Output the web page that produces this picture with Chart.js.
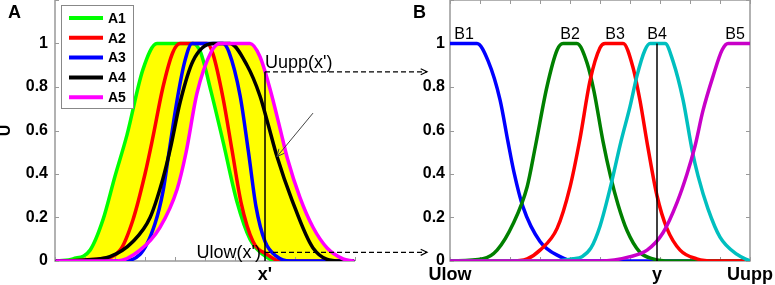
<!DOCTYPE html>
<html>
<head>
<meta charset="utf-8">
<script src="https://cdn.jsdelivr.net/npm/chart.js@4.4.1/dist/chart.umd.min.js"></script>
<style>
html, body { margin: 0; padding: 0; background: #fff; }
#wrap { position: relative; width: 775px; height: 285px; overflow: hidden; }
#chartA { position: absolute; left: 0; top: 0; }
#chartB { position: absolute; left: 390px; top: 0; pointer-events: none; }
</style>
</head>
<body>
<div id="wrap">
  <canvas id="chartA" width="440" height="285"></canvas>
  <canvas id="chartB" width="385" height="285"></canvas>
</div>
<script>
Chart.defaults.font.family = "'Liberation Sans', Arial, sans-serif";
Chart.defaults.color = '#000';

// panel A: input sets, [x, membership] (x axis in tick units 0..10)
var A1 = [[0.07,0],[0.6,0.01],[1.17,0.05],[1.6,0.19],[2.0,0.39],[2.4,0.58],[2.93,0.88],[3.4,1],[4.6,1],[4.85,0.96],[5.2,0.78],[5.6,0.55],[6.07,0.27],[6.5,0.1],[6.93,0.03],[7.4,0],[9.93,0]];
var A2 = [[0.07,0],[1.5,0.01],[2.17,0.05],[2.6,0.19],[3.0,0.4],[3.25,0.56],[3.6,0.8],[3.93,0.96],[4.17,1],[5.07,1],[5.27,0.95],[5.6,0.75],[5.9,0.51],[6.2,0.27],[6.6,0.09],[7.07,0.03],[7.5,0],[9.93,0]];
var A3 = [[0.07,0],[2.17,0],[2.83,0.03],[3.33,0.17],[3.6,0.32],[3.8,0.5],[4.07,0.74],[4.33,0.92],[4.57,1],[5.6,1],[5.8,0.96],[6.17,0.76],[6.45,0.5],[6.7,0.25],[7.0,0.09],[7.4,0.02],[7.83,0],[9.93,0]];
var A4 = [[0.07,0],[1.0,0.005],[1.83,0.02],[2.6,0.09],[3.17,0.2],[3.6,0.38],[3.85,0.52],[4.17,0.73],[4.6,0.92],[5.27,1],[5.83,1],[6.4,0.9],[6.83,0.76],[7.1,0.63],[7.4,0.48],[7.9,0.28],[8.6,0.06],[9.5,0],[9.93,0]];
var A5 = [[0.07,0],[2.07,0],[2.83,0.05],[3.5,0.155],[4.07,0.33],[4.37,0.5],[4.73,0.77],[5.2,0.96],[5.5,1],[6.5,1],[6.83,0.94],[7.17,0.79],[7.5,0.61],[7.75,0.47],[8.17,0.29],[8.6,0.155],[9.07,0.06],[9.6,0.01],[9.93,0]];

// panel B: output sets
var B1 = [[0,1],[0.9,1],[1.27,0.92],[1.67,0.74],[1.93,0.55],[2.13,0.41],[2.43,0.25],[3.0,0.09],[3.67,0.02],[4.1,0],[10,0]];
var B2 = [[0,0],[1.1,0.01],[1.57,0.05],[2.1,0.17],[2.57,0.34],[2.85,0.53],[3.23,0.8],[3.57,0.97],[3.77,1],[4.23,1],[4.57,0.91],[4.8,0.78],[5.1,0.55],[5.35,0.39],[5.6,0.26],[5.9,0.14],[6.33,0.04],[6.77,0.01],[7.33,0],[10,0]];
var B3 = [[0,0],[2.0,0],[2.57,0.01],[3.0,0.05],[3.57,0.15],[4.0,0.34],[4.33,0.56],[4.67,0.83],[5.0,0.98],[5.17,1],[5.77,1],[6.1,0.89],[6.33,0.74],[6.6,0.52],[6.9,0.3],[7.23,0.15],[7.67,0.05],[8.23,0.01],[8.8,0],[10,0]];
var B4 = [[0,0],[3.5,0],[4.1,0.01],[4.4,0.02],[4.7,0.06],[5.0,0.16],[5.33,0.33],[5.7,0.55],[6.0,0.71],[6.23,0.85],[6.5,0.97],[6.67,1],[7.17,1],[7.43,0.92],[7.77,0.74],[8.07,0.51],[8.27,0.39],[8.6,0.24],[9.0,0.11],[9.57,0.03],[10,0]];
var B5 = [[0,0],[5.0,0],[6.0,0.02],[6.57,0.05],[7.1,0.13],[7.57,0.27],[7.9,0.4],[8.17,0.53],[8.43,0.69],[8.77,0.85],[9.07,0.97],[9.27,1],[10,1]];

var namesA = ['A1','A2','A3','A4','A5'];
var namesB = ['B1','B2','B3','B4','B5'];
var peakB = [0.47, 4.0, 5.5, 6.9, 9.5];   // where the B labels sit

var yTickVals = [0, 0.2, 0.4, 0.6, 0.8, 1];
var yTickLabels = ['0','0.2','0.4','0.6','0.8','1'];
var yMarks = [0, 0.2, 0.4, 0.6, 0.8, 1, 1.2];
var xMarks = [0,1,2,3,4,5,6,7,8,9,10];

var xPrime = 7, uUpp = 0.87, uLow = 0.04, arrowEnd = 12.4;
var yOut = 6.9;
var xTicksA = [xPrime], xLabelsA = ["x'"];
var xTicksB = [0, yOut, 10], xLabelsB = ['Ulow', 'y', 'Uupp'];
var pointerA = [[8.6, 0.68], [7.4, 0.48]];

var colorsA = ['#00ff00', '#ff0000', '#0000ff', '#000000', '#ff00ff'];
var colorsB = ['#0000ff', '#008000', '#ff0000', '#00bfbf', '#c800c8'];
var axisColor = '#999999';
var FONT = "'Liberation Sans', Arial, sans-serif";

function pts(arr) { return arr.map(function(p){ return {x: p[0], y: p[1]}; }); }

function frame(chart, box) {
	var ctx = chart.ctx, a = chart.chartArea, x = chart.scales.x, y = chart.scales.y;
	ctx.save();
	ctx.strokeStyle = axisColor;
	ctx.lineWidth = 1.5;
	ctx.beginPath();
	ctx.moveTo(a.left, a.top); ctx.lineTo(a.left, a.bottom); ctx.lineTo(a.right, a.bottom);
	if (box) { ctx.lineTo(a.right, a.top); ctx.lineTo(a.left, a.top); }
	ctx.stroke();
	ctx.lineWidth = 1;
	ctx.beginPath();
	xMarks.forEach(function(v){
		var px = Math.round(x.getPixelForValue(v)) + 0.5;
		ctx.moveTo(px, a.bottom); ctx.lineTo(px, a.bottom - 4);
		if (box) { ctx.moveTo(px, a.top); ctx.lineTo(px, a.top + 4); }
	});
	yMarks.forEach(function(v){
		var py = Math.round(y.getPixelForValue(v)) + 0.5;
		ctx.moveTo(a.left, py); ctx.lineTo(a.left + 4, py);
		if (box) { ctx.moveTo(a.right, py); ctx.lineTo(a.right - 4, py); }
	});
	ctx.stroke();
	ctx.restore();
}

function arrowHead(ctx, x, y, dx, dy, size) {
	var ang = Math.atan2(dy, dx);
	ctx.beginPath();
	ctx.moveTo(x - size * Math.cos(ang - 0.45), y - size * Math.sin(ang - 0.45));
	ctx.lineTo(x, y);
	ctx.lineTo(x - size * Math.cos(ang + 0.45), y - size * Math.sin(ang + 0.45));
	ctx.stroke();
}

var panelA = {
	id: 'panelA',
	beforeDatasetsDraw: function(chart){ frame(chart, false); },
	afterDraw: function(chart){
		var ctx = chart.ctx, a = chart.chartArea, x = chart.scales.x, y = chart.scales.y;
		ctx.save();
		// x' guide line
		var xp = x.getPixelForValue(xPrime);
		ctx.strokeStyle = '#000'; ctx.lineWidth = 1.5;
		ctx.beginPath(); ctx.moveTo(xp, y.getPixelForValue(0)); ctx.lineTo(xp, y.getPixelForValue(uUpp)); ctx.stroke();
		// dashed arrows to panel B
		ctx.lineWidth = 1.2;
		[uUpp, uLow].forEach(function(v){
			var py = y.getPixelForValue(v), xe = x.getPixelForValue(arrowEnd);
			ctx.setLineDash([5, 3]);
			ctx.beginPath(); ctx.moveTo(xp, py); ctx.lineTo(xe, py); ctx.stroke();
			ctx.setLineDash([]);
			arrowHead(ctx, xe, py, 1, 0, 7);
		});
		// pointer arrow
		var p0x = x.getPixelForValue(pointerA[0][0]), p0y = y.getPixelForValue(pointerA[0][1]);
		var p1x = x.getPixelForValue(pointerA[1][0]), p1y = y.getPixelForValue(pointerA[1][1]);
		ctx.strokeStyle = '#444'; ctx.lineWidth = 1;
		ctx.beginPath(); ctx.moveTo(p0x, p0y); ctx.lineTo(p1x, p1y); ctx.stroke();
		arrowHead(ctx, p1x, p1y, p1x - p0x, p1y - p0y, 8);
		// texts
		ctx.fillStyle = '#000';
		ctx.font = '18px ' + FONT;
		ctx.textAlign = 'left'; ctx.textBaseline = 'alphabetic';
		ctx.fillText("Uupp(x')", xp, y.getPixelForValue(uUpp) - 4);
		ctx.textAlign = 'right'; ctx.textBaseline = 'middle';
		ctx.fillText("Ulow(x')", xp - 4, y.getPixelForValue(uLow) + 1);
		ctx.font = 'bold 18px ' + FONT;
		ctx.textAlign = 'left'; ctx.textBaseline = 'top';
		ctx.fillText('A', a.left - 47, 4);
		// legend
		var lx = a.left + 6, ly = 5, lw = 72, lh = 103;
		ctx.fillStyle = '#fff'; ctx.fillRect(lx, ly, lw, lh);
		ctx.strokeStyle = '#888'; ctx.lineWidth = 1;
		ctx.strokeRect(lx + 0.5, ly + 0.5, lw, lh);
		ctx.font = 'bold 14px ' + FONT;
		ctx.textAlign = 'left'; ctx.textBaseline = 'middle';
		namesA.forEach(function(n, i){
			var yy = ly + 13 + i * 19.8;
			ctx.strokeStyle = colorsA[i]; ctx.lineWidth = 4;
			ctx.beginPath(); ctx.moveTo(lx + 8, yy); ctx.lineTo(lx + 42, yy); ctx.stroke();
			ctx.fillStyle = '#000';
			ctx.fillText(n, lx + 47, yy + 1);
		});
		ctx.restore();
	}
};

var panelB = {
	id: 'panelB',
	beforeDatasetsDraw: function(chart){ frame(chart, true); },
	afterDraw: function(chart){
		var ctx = chart.ctx, a = chart.chartArea, x = chart.scales.x, y = chart.scales.y;
		ctx.save();
		var xo = x.getPixelForValue(yOut);
		ctx.strokeStyle = '#000'; ctx.lineWidth = 1.5;
		ctx.beginPath(); ctx.moveTo(xo, y.getPixelForValue(0)); ctx.lineTo(xo, y.getPixelForValue(1)); ctx.stroke();
		ctx.fillStyle = '#000';
		ctx.font = '16px ' + FONT;
		ctx.textAlign = 'center'; ctx.textBaseline = 'alphabetic';
		namesB.forEach(function(n, i){
			ctx.fillText(n, x.getPixelForValue(peakB[i]), y.getPixelForValue(1) - 5);
		});
		ctx.font = 'bold 18px ' + FONT;
		ctx.textAlign = 'left'; ctx.textBaseline = 'top';
		ctx.fillText('B', a.left - 37, 4);
		ctx.restore();
	}
};

function scalesFor(xTicks, xLabels, yWidth, yPad) {
	return {
		x: {
			type: 'linear', min: 0, max: 10,
			grid: { display: false, drawTicks: false },
			border: { display: false },
			afterBuildTicks: function(s){ s.ticks = xTicks.map(function(v){ return {value: v}; }); },
			afterFit: function(s){ s.height = 24; s.paddingLeft = 0; s.paddingRight = 0; },
			ticks: {
				autoSkip: false, maxRotation: 0, padding: 3,
				font: { size: 18, weight: 'bold' },
				callback: function(v, i){ return xLabels[i]; }
			}
		},
		y: {
			min: 0, max: 1.2,
			grid: { display: false, drawTicks: false },
			border: { display: false },
			afterBuildTicks: function(s){ s.ticks = yTickVals.map(function(v){ return {value: v}; }); },
			afterFit: function(s){ s.width = yWidth; s.paddingTop = 0; s.paddingBottom = 0; },
			ticks: {
				padding: yPad,
				font: { size: 16, weight: 'bold' },
				callback: function(v, i){ return yTickLabels[i]; }
			},
			title: yWidth === 55 ? {
				display: true, text: 'U',
				font: { size: 16, weight: 'bold', lineHeight: 1 },
				padding: { top: -2, bottom: 0 }
			} : { display: false }
		}
	};
}

var common = {
	responsive: false,
	animation: false,
	events: [],
	elements: {
		point: { radius: 0 },
		line: { cubicInterpolationMode: 'monotone', borderWidth: 3.5, borderCapStyle: 'round', borderJoinStyle: 'round' }
	}
};

var dsA = [A1, A2, A3, A4, A5].map(function(arr, i){
	return {
		label: namesA[i], data: pts(arr),
		borderColor: colorsA[i], backgroundColor: '#ffff00',
		fill: i === 0 ? 4 : false,
		order: 4 - i
	};
});

var chartA = new Chart(document.getElementById('chartA'), {
	type: 'line',
	data: { datasets: dsA },
	options: Object.assign({}, common, {
		layout: { padding: { left: 0, right: 85, top: 0, bottom: 0 } },
		plugins: { legend: { display: false }, tooltip: { enabled: false }, filler: { drawTime: 'beforeDatasetsDraw' } },
		scales: scalesFor(xTicksA, xLabelsA, 55, 7)
	}),
	plugins: [panelA]
});

var dsB = [B1, B2, B3, B4, B5].map(function(arr, i){
	return {
		label: namesB[i], data: pts(arr),
		borderColor: colorsB[i], fill: false,
		order: 4 - i
	};
});

var chartB = new Chart(document.getElementById('chartB'), {
	type: 'line',
	data: { datasets: dsB },
	options: Object.assign({}, common, {
		layout: { padding: { left: 0, right: 25, top: 0, bottom: 0 } },
		plugins: { legend: { display: false }, tooltip: { enabled: false } },
		scales: scalesFor(xTicksB, xLabelsB, 60, 5)
	}),
	plugins: [panelB]
});
</script>
</body>
</html>
